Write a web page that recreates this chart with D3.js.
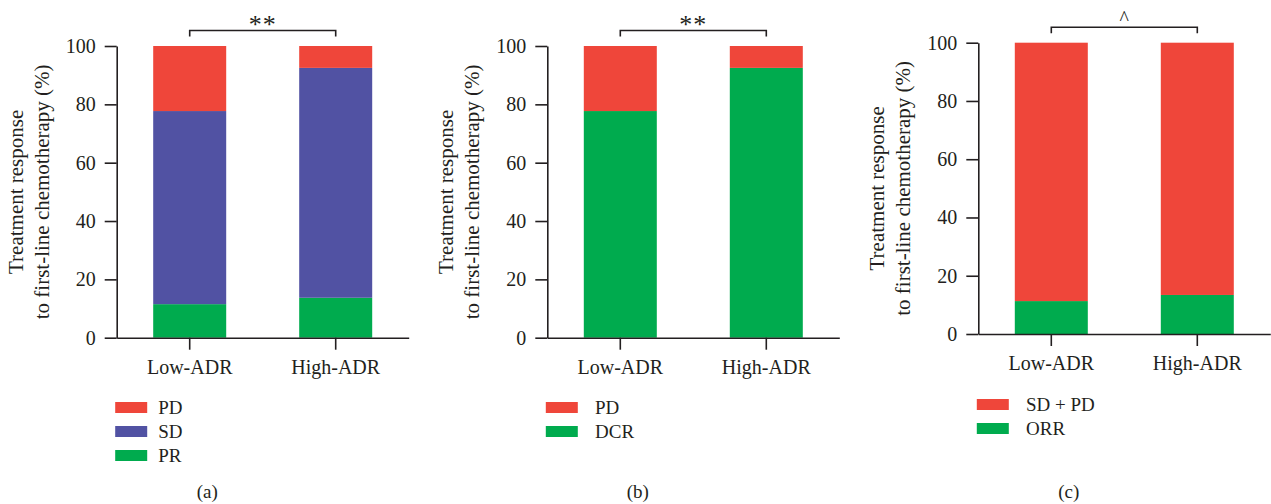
<!DOCTYPE html>
<html>
<head>
<meta charset="utf-8">
<script src="https://cdn.jsdelivr.net/npm/d3@7"></script>
<style>
  body { margin: 0; background: #fff; }
  text { font-family: "Liberation Serif", "DejaVu Serif", serif; fill: #231f20; }
  .axis path, .axis line { stroke: #231f20; stroke-width: 1.6; }
  .axis text { font-size: 20px; fill: #231f20; }
</style>
</head>
<body>
<div id="chart"></div>
<script>
// values (percent)
var categories = ["Low-ADR", "High-ADR"];
var yTicks = [0, 20, 40, 60, 80, 100];

var panelA_PR = [11.5, 13.7];
var panelA_SD = [66.2, 78.8];
var panelA_PD = [22.3, 7.5];

var panelB_DCR = [77.7, 92.5];
var panelB_PD = [22.3, 7.5];

var panelC_ORR = [11.3, 13.4];
var panelC_SDPD = [88.7, 86.6];

var colors = { red: "#ef463a", blue: "#5152a3", green: "#00ab4e" };

// bottom-to-top series for each panel
var panels = [
  { letter: "(a)", sig: "**", axisX: 116.7, top: 46, bottom: 337.7, textX: 41.5, legendTop: 402,
    series: [
      { name: "PR", values: panelA_PR, color: colors.green },
      { name: "SD", values: panelA_SD, color: colors.blue },
      { name: "PD", values: panelA_PD, color: colors.red }
    ] },
  { letter: "(b)", sig: "**", axisX: 547.3, top: 46, bottom: 337.7, textX: 47.7, legendTop: 402,
    series: [
      { name: "DCR", values: panelB_DCR, color: colors.green },
      { name: "PD", values: panelB_PD, color: colors.red }
    ] },
  { letter: "(c)", sig: "^", axisX: 978.3, top: 42.7, bottom: 334, textX: 47.7, legendTop: 399,
    series: [
      { name: "ORR", values: panelC_ORR, color: colors.green },
      { name: "SD + PD", values: panelC_SDPD, color: colors.red }
    ] }
];

var svg = d3.select("#chart").append("svg")
  .attr("width", 1271)
  .attr("height", 504);

panels.forEach(function(p) {
  var keys = p.series.map(function(s) { return s.name; });
  var rows = categories.map(function(c, i) {
    var r = { cat: c };
    p.series.forEach(function(s) { r[s.name] = s.values[i]; });
    return r;
  });
  var stacked = d3.stack().keys(keys)(rows);

  var x = d3.scaleBand()
    .domain(categories)
    .range([p.axisX, p.axisX + 292])
    .paddingInner(0.5)
    .paddingOuter(0.25);
  var y = d3.scaleLinear()
    .domain([0, 100])
    .range([p.bottom, p.top]);

  var g = svg.append("g");

  g.selectAll(".layer")
    .data(stacked)
    .enter().append("g")
    .attr("fill", function(d, i) { return p.series[i].color; })
    .selectAll("rect")
    .data(function(d) { return d; })
    .enter().append("rect")
    .attr("x", function(d) { return x(d.data.cat); })
    .attr("width", x.bandwidth())
    .attr("y", function(d) { return y(d[1]); })
    .attr("height", function(d) { return y(d[0]) - y(d[1]); });

  g.append("g")
    .attr("class", "axis")
    .attr("transform", "translate(" + p.axisX + ",0)")
    .call(d3.axisLeft(y).tickValues(yTicks).tickSize(12).tickSizeOuter(0).tickPadding(9));

  g.append("g")
    .attr("class", "axis")
    .attr("transform", "translate(0," + p.bottom + ")")
    .call(d3.axisBottom(x).tickSize(12).tickSizeOuter(0).tickPadding(10));

  // y axis title, two lines
  var cy = (p.top + p.bottom) / 2;
  g.append("text")
    .attr("transform", "translate(" + (p.axisX - 94) + "," + cy + ") rotate(-90)")
    .attr("text-anchor", "middle")
    .attr("font-size", "21px")
    .text("Treatment response");
  g.append("text")
    .attr("transform", "translate(" + (p.axisX - 68) + "," + cy + ") rotate(-90)")
    .attr("text-anchor", "middle")
    .attr("font-size", "21px")
    .text("to first-line chemotherapy (%)");

  // significance bracket
  var x1 = x(categories[0]) + x.bandwidth() / 2,
    x2 = x(categories[1]) + x.bandwidth() / 2,
    by = p.top - 15.5;
  g.append("path")
    .attr("d", "M" + x1 + "," + (by + 6) + "V" + by + "H" + x2 + "V" + (by + 6))
    .attr("fill", "none")
    .attr("stroke", "#231f20")
    .attr("stroke-width", 1.6);
  g.append("text")
    .attr("x", (x1 + x2) / 2)
    .attr("y", p.sig === "^" ? by - 2 : by + 2)
    .attr("text-anchor", "middle")
    .attr("font-size", p.sig === "^" ? "20px" : "26px")
    .attr("letter-spacing", p.sig === "^" ? "0px" : "1px")
    .text(p.sig);

  // legend, top of stack first
  var legendItems = p.series.slice().reverse();
  var lg = g.selectAll(".legend")
    .data(legendItems)
    .enter().append("g")
    .attr("transform", function(d, i) {
      return "translate(" + (p.axisX - 1.5) + "," + (p.legendTop + i * 24) + ")";
    });
  lg.append("rect")
    .attr("width", 32)
    .attr("height", 11)
    .attr("fill", function(d) { return d.color; });
  lg.append("text")
    .attr("x", p.textX + 1.5)
    .attr("y", 12)
    .attr("font-size", "19px")
    .text(function(d) { return d.name; });

  // panel letter
  g.append("text")
    .attr("x", p.axisX + 90.5)
    .attr("y", 498)
    .attr("text-anchor", "middle")
    .attr("font-size", "19px")
    .text(p.letter);
});
</script>
</body>
</html>
